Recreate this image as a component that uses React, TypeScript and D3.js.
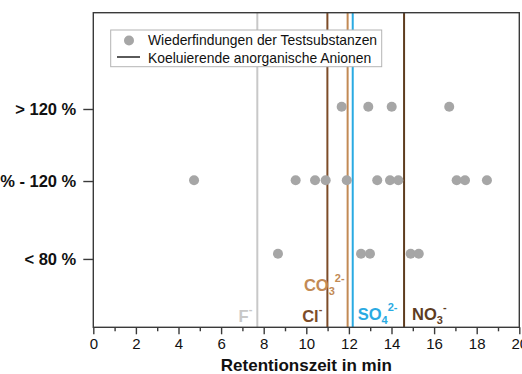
import React, { useEffect, useRef } from 'react';
import * as d3 from 'd3';

// recovery classes (y) and retention times of the test substances (x, min)
const categories = ['< 80 %', '80 % - 120 %', '> 120 %'];
const categoryTicks = [0.93, 1.99, 2.97];
const lowRecovery = [8.67, 12.57, 12.99, 14.9, 15.28];
const midRecovery = [4.73, 9.5, 10.41, 10.91, 11.9, 13.33, 13.93, 14.32, 17.06, 17.45, 18.48];
const highRecovery = [11.66, 12.91, 14.01, 16.71];

// co-eluting inorganic anions
const anionNames = ['F', 'Cl', 'CO', 'SO', 'NO'];
const anionSub = ['', '', '3', '4', '3'];
const anionSup = ['-', '-', '2-', '2-', '-'];
const anionTimes = [7.7, 10.99, 11.94, 12.18, 14.59];
const anionColors = ['#c8c8c8', '#7d4c28', '#c28a55', '#2aaae2', '#5e3c1f'];

const W = 522;
const H = 374;
const FONT = 'Liberation Sans, Arial, sans-serif';

const App = () => {
  const ref = useRef<SVGSVGElement>(null);

  useEffect(() => {
    const svg = d3.select(ref.current);
    svg.selectAll('*').remove();

    const left = 93.3, right = 519.3, top = 12.7, bottom = 327.3;

    const x = d3.scaleLinear().domain([0, 20]).range([left, right]);
    const y = d3.scaleLinear().domain([0, 4.28]).range([bottom, top]);

    const g = svg.append('g');

    // anion lines
    anionTimes.forEach((t, i) => {
      g.append('line')
        .attr('x1', x(t)).attr('x2', x(t))
        .attr('y1', top).attr('y2', bottom)
        .attr('stroke', anionColors[i])
        .attr('stroke-width', 2);
    });

    // points
    const rows = [lowRecovery, midRecovery, highRecovery];
    rows.forEach((row, r) => {
      g.selectAll(null)
        .data(row)
        .enter()
        .append('circle')
        .attr('cx', d => x(d))
        .attr('cy', y(r + 1))
        .attr('r', 5)
        .attr('fill', '#a6a6a6');
    });

    // anion labels
    const labelPos = [
      { dx: -5, y: 322, anchor: 'end' },
      { dx: -5, y: 322, anchor: 'end' },
      { dx: -3, y: 291, anchor: 'end' },
      { dx: 5, y: 320, anchor: 'start' },
      { dx: 8, y: 320, anchor: 'start' },
    ];
    anionNames.forEach((name, i) => {
      const p = labelPos[i];
      const txt = g.append('text')
        .attr('x', x(anionTimes[i]) + p.dx)
        .attr('y', p.y)
        .attr('text-anchor', p.anchor)
        .attr('font-family', FONT)
        .attr('font-weight', 'bold')
        .attr('font-size', 16.5)
        .attr('fill', anionColors[i]);
      txt.append('tspan').text(name);
      if (anionSub[i]) {
        txt.append('tspan').attr('font-size', 11).attr('dy', 4).text(anionSub[i]);
        txt.append('tspan').attr('font-size', 11).attr('dy', -13).text(anionSup[i]);
      } else {
        txt.append('tspan').attr('font-size', 11).attr('dy', -9).text(anionSup[i]);
      }
    });

    // frame
    g.append('rect')
      .attr('x', left).attr('y', top)
      .attr('width', right - left).attr('height', bottom - top)
      .attr('fill', 'none')
      .attr('stroke', '#3a3a3a')
      .attr('stroke-width', 1.4);

    // x axis
    const xMinor = svg.append('g')
      .attr('transform', `translate(0, ${bottom})`)
      .call(d3.axisBottom(x).tickValues(d3.range(1, 20, 2)).tickSize(4).tickFormat(() => ''));
    const xMajor = svg.append('g')
      .attr('transform', `translate(0, ${bottom})`)
      .call(d3.axisBottom(x).tickValues(d3.range(0, 21, 2)).tickSize(7).tickPadding(4));
    [xMinor, xMajor].forEach(a => {
      a.select('.domain').remove();
      a.selectAll('line').attr('stroke', '#3a3a3a').attr('stroke-width', 1.4);
    });
    xMajor.selectAll('text')
      .attr('font-family', FONT)
      .attr('font-size', 15)
      .attr('fill', '#111');

    // y axis
    const yAxis = svg.append('g')
      .attr('transform', `translate(${left}, 0)`)
      .call(d3.axisLeft(y).tickValues(categoryTicks).tickSize(10).tickPadding(7)
        .tickFormat((_, i) => categories[i]));
    yAxis.select('.domain').remove();
    yAxis.selectAll('line').attr('stroke', '#3a3a3a').attr('stroke-width', 1.4);
    yAxis.selectAll('text')
      .attr('font-family', FONT)
      .attr('font-size', 16.5)
      .attr('font-weight', 'bold')
      .attr('fill', '#111');

    // axis title
    svg.append('text')
      .attr('x', (left + right) / 2)
      .attr('y', 370.5)
      .attr('text-anchor', 'middle')
      .attr('font-family', FONT)
      .attr('font-size', 17)
      .attr('font-weight', 'bold')
      .attr('fill', '#111')
      .text('Retentionszeit in min');

    // legend
    const lg = svg.append('g');
    lg.append('rect')
      .attr('x', 110.7).attr('y', 30)
      .attr('width', 271).attr('height', 36.7)
      .attr('fill', '#fff')
      .attr('stroke', '#b4b4b4')
      .attr('stroke-width', 1);
    lg.append('circle').attr('cx', 129).attr('cy', 40.5).attr('r', 5).attr('fill', '#a6a6a6');
    lg.append('line')
      .attr('x1', 117).attr('x2', 140)
      .attr('y1', 57).attr('y2', 57)
      .attr('stroke', '#5a5a5a').attr('stroke-width', 2);
    ['Wiederfindungen der Testsubstanzen', 'Koeluierende anorganische Anionen'].forEach((t, i) => {
      lg.append('text')
        .attr('x', 148)
        .attr('y', 45 + i * 17.5)
        .attr('font-family', FONT)
        .attr('font-size', 13.9)
        .attr('fill', '#111')
        .text(t);
    });

    return () => {
      svg.selectAll('*').remove();
    };
  }, []);

  return (
    <svg
      ref={ref}
      width={W}
      height={H}
      style={{ position: 'absolute', left: 0, top: 0, background: '#fff' }}
    />
  );
};

export default App;
